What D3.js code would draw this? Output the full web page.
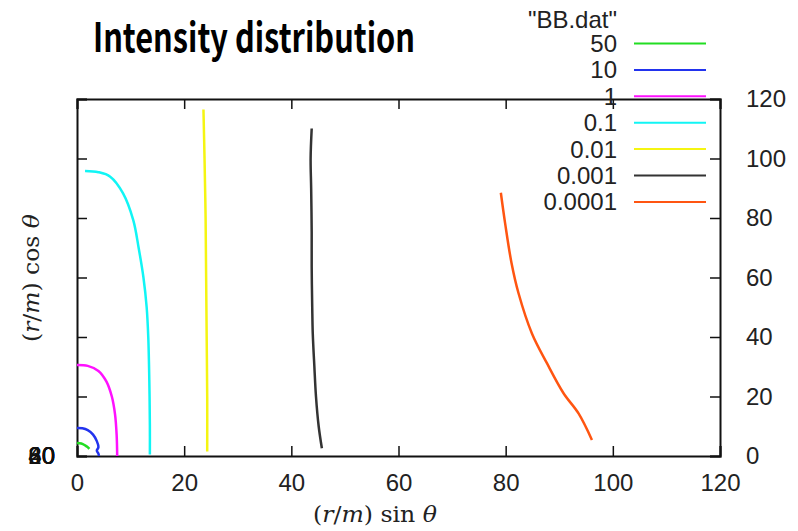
<!DOCTYPE html>
<html>
<head>
<meta charset="utf-8">
<script src="https://cdn.jsdelivr.net/npm/d3@7"></script>
<style>
  body { margin: 0; background: #fff; }
  text { font-family: "Liberation Sans", Arial, sans-serif; }
</style>
</head>
<body>
<svg id="chart" width="798" height="531"></svg>
<script>
// contour levels and their colours (gnuplot defaults-ish)
const levels = ["50", "10", "1", "0.1", "0.01", "0.001", "0.0001"];
const colors = ["#22dd22", "#2233ee", "#ff11ff", "#11f5f5", "#f5f511", "#333333", "#ff5511"];

const xTicks = [0, 20, 40, 60, 80, 100, 120];
const yTicks = [0, 20, 40, 60, 80, 100, 120];
const leftLabels = ["0", "20", "40", "60", "80"]; // overlapped at the origin in the original

// contour lines, [x, y] in data units
const c50 = [[0, 4.4], [0.8, 4.2], [1.5, 3.6], [2.0, 3.0], [2.3, 2.4]];
const c10 = [[0, 9.4], [1.0, 9.3], [2.0, 8.7], [3.0, 7.2], [3.7, 5.0], [4.0, 3.0], [3.7, 1.8], [4.0, 0.8], [4.1, 0]];
const c1 = [[0, 30.6], [2.0, 30.3], [4.0, 28.6], [5.5, 25.0], [6.5, 20.0], [7.1, 14.0], [7.4, 7.0], [7.5, 0]];
const c01 = [[1.5, 95.8], [4.0, 95.4], [6.2, 93.9], [8.6, 88.3], [10.5, 79.3], [11.5, 70.0], [12.4, 60.0],
    [13.0, 50.0], [13.3, 40.0], [13.5, 25.0], [13.6, 10.0], [13.6, 0.5]];
const c001 = [[23.6, 116.5], [23.8, 100], [24.0, 80], [24.1, 60], [24.2, 40], [24.3, 20], [24.3, 1.5]];
const c0001 = [[43.8, 110.1], [43.6, 100], [43.7, 90], [43.8, 75], [43.8, 63.6], [43.9, 50], [44.0, 41.2],
    [44.3, 30], [44.6, 20], [45.1, 10], [45.7, 2.6]];
const c00001 = [[79.1, 88.5], [79.9, 78.2], [81.1, 64.8], [82.4, 54.7], [84.9, 41.2], [87.7, 31.2],
    [90.8, 21.1], [93.6, 14.3], [96.1, 5.4]];
const contours = [c50, c10, c1, c01, c001, c0001, c00001];

const svg = d3.select("#chart");
const pLeft = 77, pRight = 720, pTop = 99, pBottom = 456;

const x = d3.scaleLinear().domain([0, 120]).range([pLeft, pRight]);
const y = d3.scaleLinear().domain([0, 120]).range([pBottom, pTop]);

// title
svg.append("text")
    .attr("x", 93).attr("y", 52)
    .attr("textLength", 322).attr("lengthAdjust", "spacingAndGlyphs")
    .style("font-family", "'Noto Sans CJK JP', 'DejaVu Sans', sans-serif")
    .style("font-weight", "bold")
    .style("font-size", "40px")
    .text("Intensity distribution");

// axes, gnuplot-style inward ticks
const tickCol = "#222";
svg.append("g").attr("transform", `translate(0,${pBottom})`)
    .call(d3.axisBottom(x).tickValues(xTicks).tickSize(-10).tickPadding(18));
svg.append("g").attr("transform", `translate(0,${pTop})`)
    .call(d3.axisTop(x).tickValues(xTicks).tickSize(-10).tickFormat(""));
svg.append("g").attr("transform", `translate(${pRight},0)`)
    .call(d3.axisRight(y).tickValues(yTicks).tickSize(-10).tickPadding(26));
svg.append("g").attr("transform", `translate(${pLeft},0)`)
    .call(d3.axisLeft(y).tickValues(yTicks).tickSize(-10).tickFormat(""));

svg.selectAll(".domain").attr("stroke", "#111").attr("stroke-width", 2);
svg.selectAll(".tick line").attr("stroke", "#111").attr("stroke-width", 1.5);
svg.selectAll(".tick text").style("font-size", "24px").style("font-family", "'Liberation Sans', Arial, sans-serif")
    .attr("fill", tickCol);

// left labels all piled up at the origin
svg.selectAll(".leftlab").data(leftLabels).enter().append("text")
    .attr("x", 55).attr("y", y(0)).attr("dy", "0.35em")
    .attr("text-anchor", "end")
    .style("font-size", "24px")
    .attr("fill", "#111")
    .text(d => d);

// contour lines
const line = d3.line().x(d => x(d[0])).y(d => y(d[1])).curve(d3.curveCatmullRom);
svg.selectAll(".contour").data(contours).enter().append("path")
    .attr("d", line)
    .attr("fill", "none")
    .attr("stroke", (d, i) => colors[i])
    .attr("stroke-width", 2.5);

// key
svg.append("text")
    .attr("x", 617).attr("y", 20).attr("dy", "0.35em")
    .attr("text-anchor", "end")
    .style("font-size", "24px").attr("fill", tickCol)
    .text("\"BB.dat\"");
const key = svg.selectAll(".key").data(levels).enter().append("g")
    .attr("transform", (d, i) => `translate(0,${43.5 + i * 26.4})`);
key.append("text")
    .attr("x", 617).attr("dy", "0.35em")
    .attr("text-anchor", "end")
    .style("font-size", "24px").attr("fill", tickCol)
    .text(d => d);
key.append("line")
    .attr("x1", 634).attr("x2", 706)
    .attr("stroke", (d, i) => colors[i])
    .attr("stroke-width", 2);

// axis titles, math style
const serif = "'DejaVu Serif', 'Liberation Serif', serif";
const xl = svg.append("text")
    .attr("x", 375).attr("y", 522).attr("text-anchor", "middle")
    .attr("textLength", 124).attr("lengthAdjust", "spacingAndGlyphs")
    .style("font-family", serif).style("font-size", "23px").attr("fill", "#222");
xl.append("tspan").text("(");
xl.append("tspan").style("font-style", "italic").text("r");
xl.append("tspan").text("/");
xl.append("tspan").style("font-style", "italic").text("m");
xl.append("tspan").text(") sin ");
xl.append("tspan").style("font-style", "italic").text("θ");

const yl = svg.append("text")
    .attr("transform", "translate(39,278) rotate(-90)").attr("text-anchor", "middle")
    .attr("textLength", 128).attr("lengthAdjust", "spacingAndGlyphs")
    .style("font-family", serif).style("font-size", "23px").attr("fill", "#222");
yl.append("tspan").text("(");
yl.append("tspan").style("font-style", "italic").text("r");
yl.append("tspan").text("/");
yl.append("tspan").style("font-style", "italic").text("m");
yl.append("tspan").text(") cos ");
yl.append("tspan").style("font-style", "italic").text("θ");
</script>
</body>
</html>
